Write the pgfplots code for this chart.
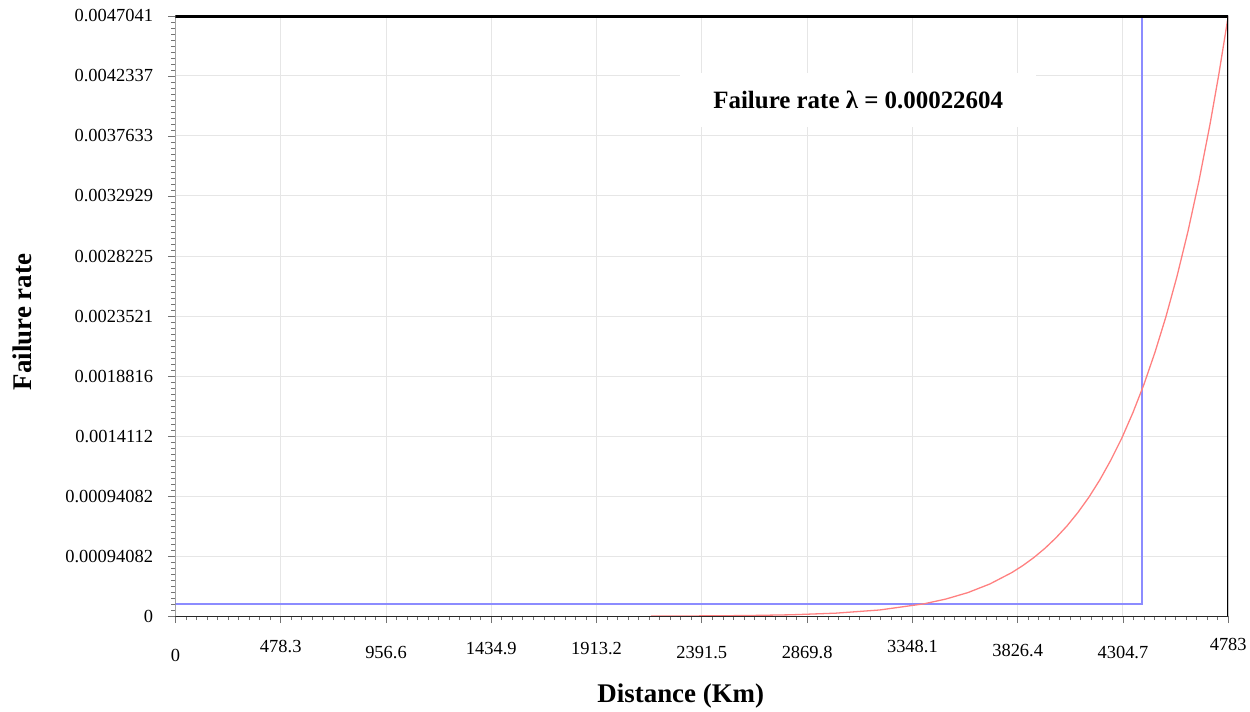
\documentclass[border=0pt]{standalone}
\usepackage{pgfplots}
\pgfplotsset{compat=1.18}
\usepackage{fontspec}
\setmainfont{Liberation Serif}
\definecolor{gridc}{HTML}{E6E6E6}
\definecolor{redc}{HTML}{FF8080}
\begin{document}
\begin{tikzpicture}
\begin{axis}[
  scale only axis, width=1056pt, height=602pt,
  xmin=0, xmax=4783, ymin=0, ymax=0.0047041,
  xtick={0,478.3,956.6,1434.9,1913.2,2391.5,2869.8,3348.1,3826.4,4304.7,4783},
  xticklabels={\raisebox{-3pt}{0},\raisebox{7pt}{478.3},956.6,\raisebox{4pt}{1434.9},\raisebox{4pt}{1913.2},2391.5,2869.8,\raisebox{7pt}{3348.1},\raisebox{2pt}{3826.4},4304.7,\raisebox{9pt}{4783}},
  ytick={0,0.00047041,0.00094082,0.00141123,0.00188164,0.00235205,0.00282246,0.00329287,0.00376328,0.00423369,0.0047041},
  yticklabels={0,0.00094082,0.00094082,0.0014112,0.0018816,0.0023521,0.0028225,0.0032929,0.0037633,0.0042337,0.0047041},
  scaled y ticks=false,
  minor x tick num=9, minor y tick num=9,
  tick pos=left, tick align=outside,
  major tick length=7pt, minor tick length=4pt,
  every tick/.style={black!55, line width=0.8pt},
  grid=major, major grid style={gridc, line width=1pt},
  axis line style={draw=none},
  ticklabel style={font=\fontsize{18.5}{20}\selectfont},
  xticklabel style={anchor=base, yshift=-36pt},
  yticklabel style={xshift=-12pt},
  /pgf/number format/assume math mode=true,
  xlabel={Distance (Km)}, ylabel={Failure rate},
  label style={font=\fontsize{27}{30}\selectfont\bfseries},
  x label style={at={(axis description cs:0.48,-0.133)}, anchor=center},
  y label style={at={(axis description cs:-0.1458,0.49)}, anchor=center},
]
\addplot[draw={rgb,255:red,140;green,140;blue,255}, line width=2pt] coordinates {(0,0.0000977) (4389,0.0000977) (4389,0.0047041)};
\addplot[draw=redc, line width=1.3pt] coordinates {
(2160,0.00000055) (2200,0.00000067) (2400,0.00000181) (2600,0.00000451) (2800,0.0000105)
(3000,0.0000231) (3200,0.0000482) (3400,0.0000961) (3500,0.0001337) (3600,0.0001842)
(3700,0.0002519) (3800,0.0003415) (3850,0.0003964) (3900,0.0004591) (3950,0.000531)
(4000,0.000613) (4050,0.000706) (4100,0.000812) (4150,0.000932) (4200,0.001069)
(4250,0.001224) (4300,0.001397) (4350,0.001595) (4400,0.001816) (4450,0.002067)
(4500,0.002347) (4550,0.002662) (4600,0.003015) (4650,0.003411) (4700,0.003853)
(4740,0.004244) (4783,0.0047041)};
\node[fill=white, inner sep=0pt, minimum width=357pt, minimum height=54pt,
  font=\fontsize{25}{28}\selectfont\bfseries] at (axis cs:3102,0.004048) {Failure rate λ = 0.00022604};
\draw[black!50, line width=1.2pt] (rel axis cs:0,0) -- (rel axis cs:0,1);
\draw[black!85, line width=1.2pt] (rel axis cs:0,0) -- (rel axis cs:1,0);
\draw[black, line width=3.2pt] (rel axis cs:0,1) -- (rel axis cs:1,1) -- (rel axis cs:1,0);
\end{axis}
\path ([xshift=-176pt,yshift=-91pt]current axis.south west) rectangle ([xshift=18pt,yshift=16pt]current axis.north east);
\end{tikzpicture}
\end{document}
